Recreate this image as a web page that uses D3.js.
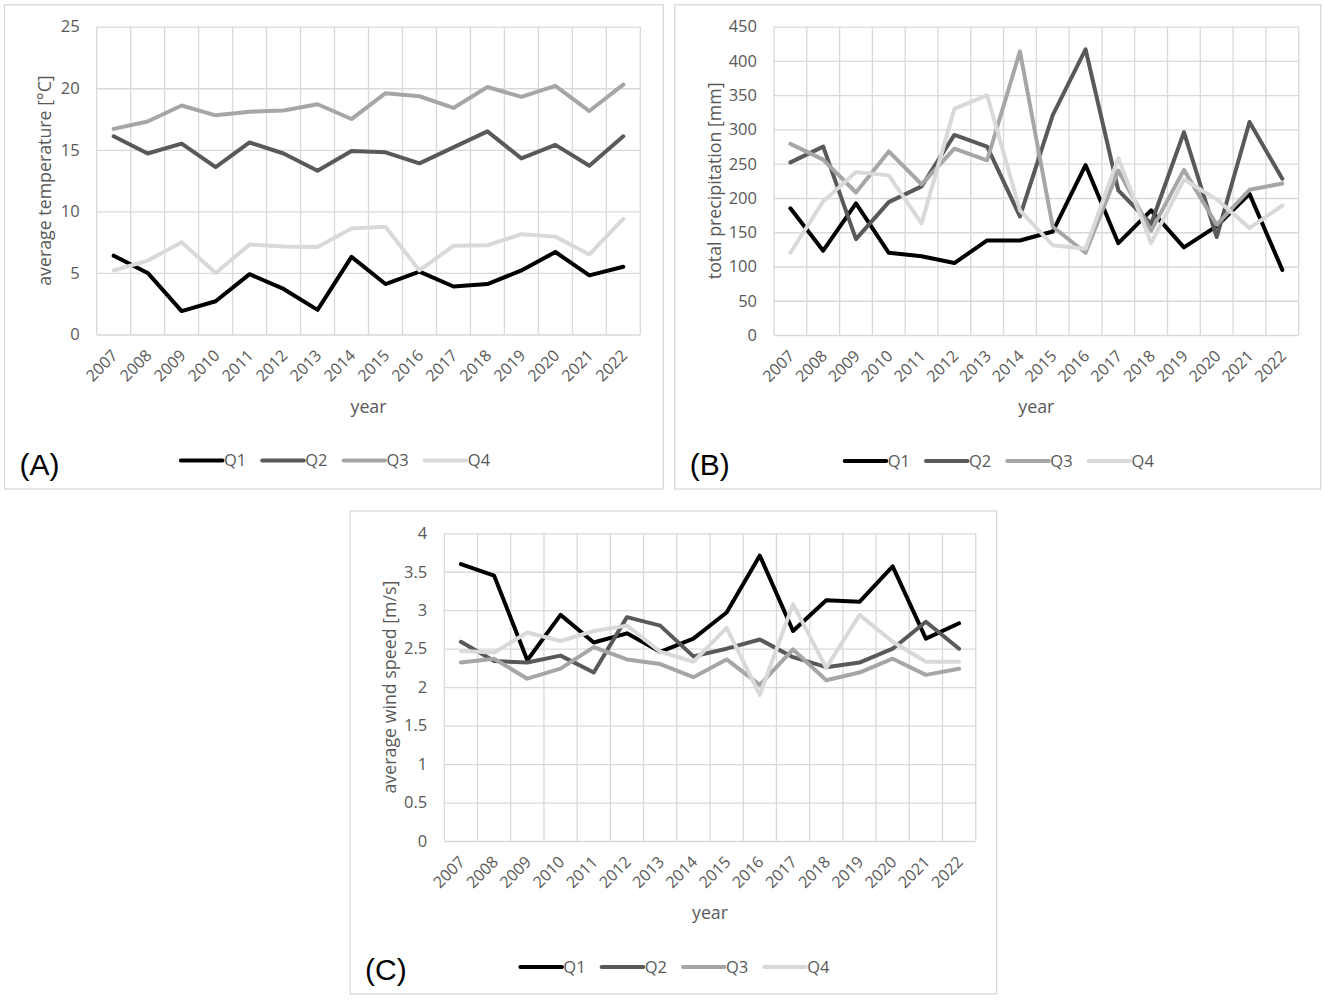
<!DOCTYPE html>
<html>
<head>
<meta charset="utf-8">
<script src="https://cdn.jsdelivr.net/npm/d3@7"></script>
<style>
  body { margin: 0; background: #fff; }
  text { font-family: "Open Sans", sans-serif; fill: #595959; }
</style>
</head>
<body>
<div id="chart"></div>
<script>
// categories
var years = ["2007","2008","2009","2010","2011","2012","2013","2014",
             "2015","2016","2017","2018","2019","2020","2021","2022"];
var seriesNames = ["Q1","Q2","Q3","Q4"];
var seriesColors = ["#000000","#595959","#a6a6a6","#d9d9d9"];

// (A) average temperature [°C]
var tempQ1 = [6.4,5.0,1.9,2.7,4.9,3.7,2.0,6.3,4.1,5.1,3.9,4.1,5.2,6.7,4.8,5.5];
var tempQ2 = [16.1,14.7,15.5,13.6,15.6,14.7,13.3,14.9,14.8,13.9,15.2,16.5,14.3,15.4,13.7,16.1];
var tempQ3 = [16.7,17.3,18.6,17.8,18.1,18.2,18.7,17.5,19.6,19.35,18.4,20.1,19.3,20.2,18.15,20.3];
var tempQ4 = [5.2,6.0,7.5,5.0,7.3,7.15,7.1,8.6,8.75,5.2,7.2,7.25,8.15,7.95,6.5,9.4];
var tempTicks = [0,5,10,15,20,25];

// (B) total precipitation [mm]
var precQ1 = [185,123,192,120,115,105,138,138,151,248,134,182,128,159,206,95];
var precQ2 = [252,275,140,194,217,292,275,173,321,417,211,162,296,143,311,228];
var precQ3 = [279,256,208,268,220,272,255,414,158,120,240,152,241,161,212,221];
var precQ4 = [120,195,238,233,163,330,350,182,131,126,258,134,227,198,156,189];
var precTicks = [0,50,100,150,200,250,300,350,400,450];

// (C) average wind speed [m/s]
var windQ1 = [3.60,3.45,2.35,2.94,2.58,2.70,2.46,2.63,2.97,3.71,2.73,3.13,3.11,3.57,2.63,2.83];
var windQ2 = [2.59,2.34,2.32,2.41,2.19,2.91,2.80,2.40,2.50,2.62,2.39,2.26,2.32,2.50,2.85,2.50];
var windQ3 = [2.32,2.37,2.11,2.24,2.52,2.36,2.30,2.13,2.36,2.03,2.49,2.09,2.19,2.37,2.16,2.24];
var windQ4 = [2.47,2.45,2.71,2.60,2.73,2.80,2.46,2.33,2.77,1.90,3.08,2.25,2.94,2.59,2.33,2.33];
var windTicks = [0,0.5,1,1.5,2,2.5,3,3.5,4];

var svg = d3.select("#chart").append("svg")
    .attr("width", 1325)
    .attr("height", 1002);

function drawPanel(p) {
  var g = svg.append("g");

  // panel frame
  g.append("rect")
      .attr("x", p.frame[0]).attr("y", p.frame[1])
      .attr("width", p.frame[2] - p.frame[0]).attr("height", p.frame[3] - p.frame[1])
      .style("fill", "#fff").style("stroke", "#d9d9d9").style("stroke-width", 1.3);

  var left = p.plot[0], top = p.plot[1], right = p.plot[2], bottom = p.plot[3];

  var x = d3.scaleBand().domain(years).range([left, right]).paddingInner(0).paddingOuter(0);
  var y = d3.scaleLinear().domain([0, d3.max(p.ticks)]).range([bottom, top]);
  var bw = x.bandwidth();

  // horizontal gridlines + y labels
  var yAxis = g.append("g")
      .attr("transform", "translate(" + left + ",0)")
      .call(d3.axisLeft(y).tickValues(p.ticks).tickSize(-(right - left)).tickPadding(17)
            .tickFormat(function(d){ return String(d); }));
  yAxis.select(".domain").remove();
  yAxis.selectAll("line").style("stroke", "#d9d9d9").style("stroke-width", 1.3);
  yAxis.selectAll("text").style("font-size", "16.5px").style("fill", "#595959");

  // vertical gridlines at category boundaries
  g.selectAll(".vgrid")
      .data(years.concat(["end"])).enter()
      .append("line")
      .attr("x1", function(d){ return d === "end" ? right : x(d); })
      .attr("x2", function(d){ return d === "end" ? right : x(d); })
      .attr("y1", top).attr("y2", bottom)
      .style("stroke", "#d9d9d9").style("stroke-width", 1.3);

  // x labels (rotated)
  var xAxis = g.append("g")
      .attr("transform", "translate(0," + bottom + ")")
      .call(d3.axisBottom(x).tickSize(0));
  xAxis.select(".domain").remove();
  xAxis.selectAll("text")
      .attr("x", 0).attr("y", 0).attr("dy", 0)
      .attr("transform", "translate(5,22) rotate(-45)")
      .style("text-anchor", "end")
      .style("font-size", "16px").style("fill", "#595959");

  // lines
  var line = d3.line()
      .x(function(d, i){ return x(years[i]) + bw / 2; })
      .y(function(d){ return y(d); });

  p.series.forEach(function(vals, i) {
    g.append("path")
        .datum(vals)
        .attr("d", line)
        .style("fill", "none")
        .style("stroke", seriesColors[i])
        .style("stroke-width", 4)
        .style("stroke-linejoin", "round")
        .style("stroke-linecap", "round");
  });

  // axis titles
  var midY = (top + bottom) / 2;
  g.append("text")
      .attr("transform", "translate(" + (p.frame[0] + 46) + "," + midY + ") rotate(-90)")
      .style("text-anchor", "middle")
      .style("font-size", "17.8px")
      .text(p.yTitle);
  g.append("text")
      .attr("x", (left + right) / 2).attr("y", bottom + 78)
      .style("text-anchor", "middle")
      .style("font-size", "17.8px")
      .text("year");

  // panel letter
  g.append("text")
      .attr("x", p.frame[0] + 15).attr("y", p.frame[3] - 14)
      .style("font-family", "'Liberation Sans', Arial, sans-serif")
      .style("font-size", "30px")
      .style("fill", "#000")
      .text(p.letter);

  // legend
  var lx = (p.frame[0] + p.frame[2]) / 2 - 153;
  var ly = bottom + 126;
  var leg = g.selectAll(".leg").data(seriesNames).enter().append("g")
      .attr("transform", function(d, i){ return "translate(" + (lx + i * 81.3) + "," + ly + ")"; });
  leg.append("line")
      .attr("x1", 0).attr("x2", 41.6).attr("y1", 0).attr("y2", 0)
      .style("stroke", function(d, i){ return seriesColors[i]; })
      .style("stroke-width", 4)
      .style("stroke-linecap", "round");
  leg.append("text")
      .attr("x", 43).attr("y", 0).attr("dy", "0.36em")
      .style("font-size", "16.5px")
      .text(function(d){ return d; });
}

drawPanel({
  frame: [4.5, 4.7, 663.3, 489],
  plot: [96.7, 26.7, 640.3, 334.5],
  ticks: tempTicks,
  series: [tempQ1, tempQ2, tempQ3, tempQ4],
  yTitle: "average temperature [°C]",
  letter: "(A)"
});

drawPanel({
  frame: [674.7, 4.7, 1320.7, 489],
  plot: [774, 26.7, 1298.7, 335],
  ticks: precTicks,
  series: [precQ1, precQ2, precQ3, precQ4],
  yTitle: "total precipitation [mm]",
  letter: "(B)"
});

drawPanel({
  frame: [350, 511, 996.7, 994],
  plot: [444.3, 533.3, 975.7, 841],
  ticks: windTicks,
  series: [windQ1, windQ2, windQ3, windQ4],
  yTitle: "average wind speed [m/s]",
  letter: "(C)"
});
</script>
</body>
</html>
